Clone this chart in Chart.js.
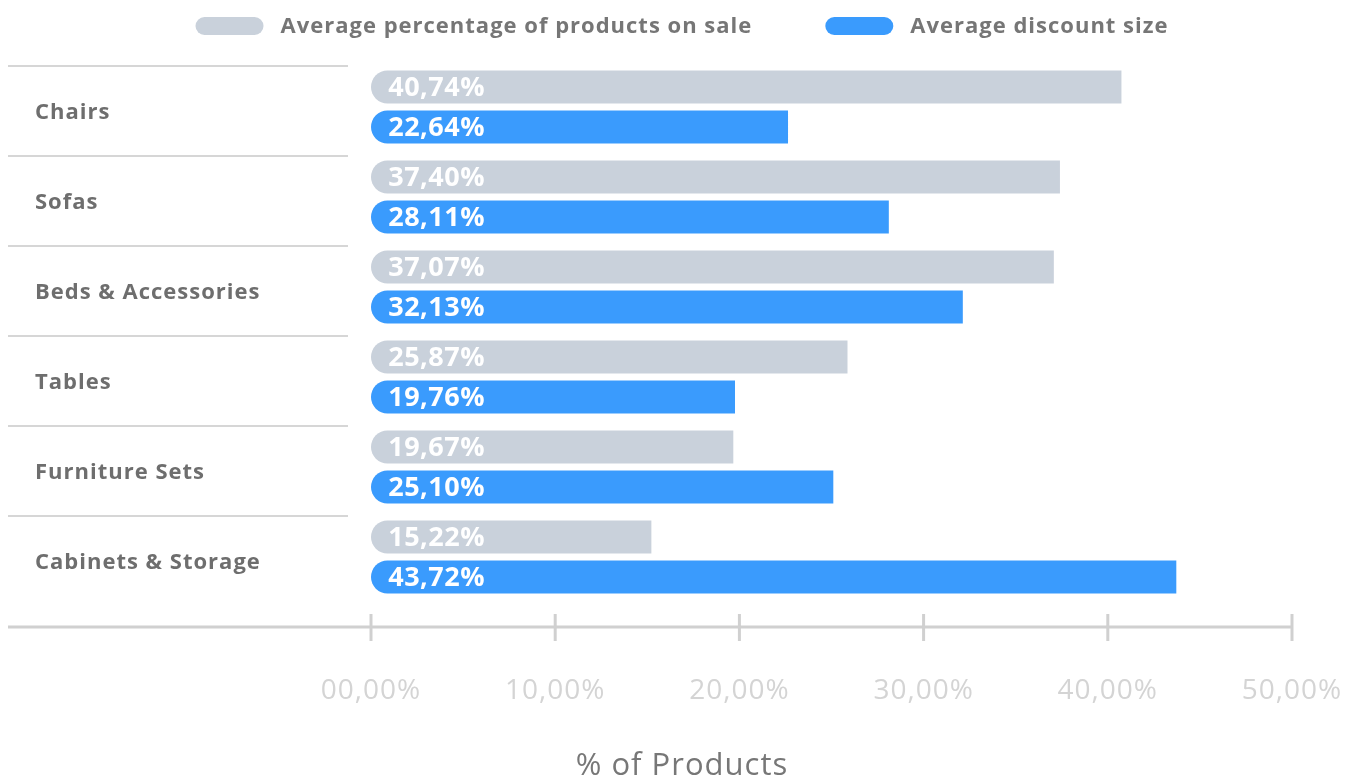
<!DOCTYPE html>
<html>
<head>
<meta charset="utf-8">
<script src="https://cdn.jsdelivr.net/npm/chart.js@4.4.0/dist/chart.umd.min.js"></script>
<style>
  html, body { margin: 0; padding: 0; background: #fff; }
</style>
</head>
<body>
<canvas id="discountChart" width="1364" height="776"></canvas>
<script>
const categories = ['Chairs', 'Sofas', 'Beds & Accessories', 'Tables', 'Furniture Sets', 'Cabinets & Storage'];
const onSaleShare = [40.74, 37.40, 37.07, 25.87, 19.67, 15.22];
const discountSize = [22.64, 28.11, 32.13, 19.76, 25.10, 43.72];
const seriesNames = ['Average percentage of products on sale', 'Average discount size'];
const seriesColors = ['#c9d1db', '#3a9bfd'];
const axisTicks = [0, 10, 20, 30, 40, 50];
const axisTitle = '% of Products';

const FONT = "'Open Sans', sans-serif";
Chart.defaults.font.family = FONT;

// 40.74 -> "40,74%", 0 -> "00,00%"
function pct(v, pad) {
    let s = v.toFixed(2).replace('.', ',');
    if (pad && v < 10) s = '0' + s;
    return s + '%';
}

// row separators on the left, bottom axis with tick marks, axis caption
const guideLines = {
    id: 'guideLines',
    beforeDatasetsDraw(chart) {
        const {ctx, scales: {x, y}} = chart;
        const rowH = y.getPixelForValue(1) - y.getPixelForValue(0);
        ctx.save();
        ctx.strokeStyle = '#d6d6d6';
        ctx.lineWidth = 2;
        categories.forEach((c, i) => {
            const ly = Math.round(y.getPixelForValue(i) - rowH / 2 + 4);
            ctx.beginPath();
            ctx.moveTo(8, ly);
            ctx.lineTo(348, ly);
            ctx.stroke();
        });
        const baseY = x.top + 25;
        ctx.strokeStyle = '#d0d0d0';
        ctx.lineWidth = 3;
        ctx.beginPath();
        ctx.moveTo(8, baseY);
        ctx.lineTo(x.right, baseY);
        ctx.stroke();
        axisTicks.forEach(t => {
            const tx = x.getPixelForValue(t);
            ctx.beginPath();
            ctx.moveTo(tx, baseY - 13);
            ctx.lineTo(tx, baseY + 14);
            ctx.stroke();
        });

        // caption is centred on the whole canvas, not on the plot
        ctx.letterSpacing = '1px';
        ctx.font = '500 31px ' + FONT;
        ctx.fillStyle = '#777777';
        ctx.textAlign = 'center';
        ctx.textBaseline = 'middle';
        ctx.fillText(axisTitle, chart.width / 2, 766);
        ctx.restore();
    }
};

// white value labels inside the start of each bar
const barValues = {
    id: 'barValues',
    afterDatasetsDraw(chart) {
        const {ctx, scales: {x}} = chart;
        const rightEdge = x.getPixelForValue(0) + 114;
        ctx.save();
        ctx.letterSpacing = '0.5px';
        ctx.font = '700 27px ' + FONT;
        ctx.fillStyle = '#ffffff';
        ctx.textAlign = 'right';
        ctx.textBaseline = 'middle';
        chart.data.datasets.forEach((ds, di) => {
            chart.getDatasetMeta(di).data.forEach((bar, i) => {
                ctx.fillText(pct(ds.data[i]), rightEdge, bar.y + 1);
            });
        });
        ctx.restore();
    }
};

// pill shaped legend at the top
const pillLegend = {
    id: 'pillLegend',
    afterDraw(chart) {
        const ctx = chart.ctx;
        const pillW = 68, pillH = 18, textGap = 17, itemGap = 73, cy = 26;
        ctx.save();
        ctx.letterSpacing = '1px';
        ctx.font = '700 22px ' + FONT;
        ctx.textBaseline = 'middle';
        ctx.textAlign = 'left';
        const widths = chart.data.datasets.map(ds => ctx.measureText(ds.label).width);
        let total = 0;
        widths.forEach((w, i) => { total += pillW + textGap + w + (i ? itemGap : 0); });
        let cx = chart.width / 2 - total / 2;
        chart.data.datasets.forEach((ds, i) => {
            ctx.fillStyle = ds.backgroundColor;
            ctx.beginPath();
            ctx.roundRect(cx, cy - pillH / 2, pillW, pillH, pillH / 2);
            ctx.fill();
            ctx.fillStyle = '#767676';
            ctx.fillText(ds.label, cx + pillW + textGap, cy + 1);
            cx += pillW + textGap + widths[i] + itemGap;
        });
        ctx.restore();
    }
};

const spacing = {
    id: 'spacing',
    beforeDraw(chart) { chart.ctx.letterSpacing = '1px'; },
    afterDraw(chart) { chart.ctx.letterSpacing = '0px'; }
};

const barShape = {
    borderRadius: {topLeft: 16.5, bottomLeft: 16.5, topRight: 0, bottomRight: 0},
    borderSkipped: false,
    categoryPercentage: 0.889,
    barPercentage: 0.825
};

const ctx = document.getElementById('discountChart').getContext('2d');
const chart = new Chart(ctx, {
    type: 'bar',
    data: {
        labels: categories,
        datasets: [
            Object.assign({label: seriesNames[0], data: onSaleShare, backgroundColor: seriesColors[0]}, barShape),
            Object.assign({label: seriesNames[1], data: discountSize, backgroundColor: seriesColors[1]}, barShape)
        ]
    },
    options: {
        indexAxis: 'y',
        responsive: false,
        animation: false,
        layout: {padding: {top: 62, left: 35, right: 72, bottom: 0}},
        plugins: {
            legend: {display: false},
            tooltip: {enabled: false}
        },
        scales: {
            x: {
                min: 0,
                max: 50,
                grid: {display: false, drawTicks: true, tickLength: 72},
                border: {display: false},
                afterBuildTicks(scale) {
                    scale.ticks = axisTicks.map(v => ({value: v}));
                },
                ticks: {
                    padding: 0,
                    color: '#d4d4d4',
                    font: {size: 28, weight: '400'},
                    callback: v => pct(v, true)
                },
                afterFit(scale) { scale.height = 174; }
            },
            y: {
                grid: {display: false},
                border: {display: false},
                ticks: {
                    crossAlign: 'far',
                    labelOffset: 6,
                    color: '#6e6e6e',
                    font: {size: 22, weight: '700'}
                },
                afterFit(scale) { scale.width = 336; }
            }
        }
    },
    plugins: [spacing, guideLines, barValues, pillLegend]
});
</script>
</body>
</html>
